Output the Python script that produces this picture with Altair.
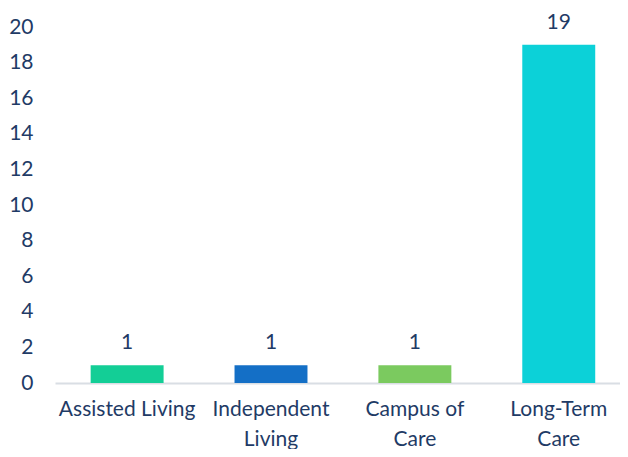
import altair as alt
import pandas as pd

categories = ["Assisted Living", "Independent Living", "Campus of Care", "Long-Term Care"]
label_lines = [["Assisted Living"], ["Independent", "Living"], ["Campus of", "Care"], ["Long-Term", "Care"]]
values = [1, 1, 1, 19]
colors = ["#13CE96", "#146FC6", "#7BCA5F", "#0CD1D8"]
y_ticks = list(range(0, 21, 2))

df = pd.DataFrame({"category": categories, "value": values})

TEXT = "#1F3B66"
FONT = "Lato"
FS = 21

expr_parts = []
for c, lines in zip(categories, label_lines):
    arr = "[" + ",".join("'" + l + "'" for l in lines) + "]"
    expr_parts.append(f"datum.value == '{c}' ? {arr} : ")
label_expr = "".join(expr_parts) + "datum.label"

x = alt.X(
    "category:N",
    sort=categories,
    title=None,
    scale=alt.Scale(paddingInner=0.493, paddingOuter=0.21, align=0.59),
    axis=alt.Axis(
        labelExpr=label_expr,
        labelAngle=0,
        labelFont=FONT,
        labelFontSize=FS,
        labelColor=TEXT,
        labelLineHeight=30,
        labelPadding=15,
        ticks=False,
        domainColor="#D9DEE4",
        domainWidth=2,
        labelLimit=300,
    ),
)

y = alt.Y(
    "value:Q",
    title=None,
    scale=alt.Scale(domain=[0, 20], nice=False),
    axis=alt.Axis(
        values=y_ticks,
        tickCount=len(y_ticks) + 5,
        grid=False,
        domain=False,
        ticks=False,
        labelOverlap=False,
        labelFont=FONT,
        labelFontSize=FS,
        labelColor=TEXT,
        labelPadding=22,
    ),
)

base = alt.Chart(df).encode(x=x, y=y)

bars = base.mark_bar().encode(
    color=alt.Color("category:N", scale=alt.Scale(domain=categories, range=colors), legend=None),
)

text = base.mark_text(
    baseline="bottom", dy=-12, font=FONT, fontSize=FS, color=TEXT
).encode(text="value:Q")

chart = (
    alt.layer(bars, text)
    .properties(
        width=612,
        height=441,
        padding={"left": 0, "top": 8, "right": 0, "bottom": 0},
        autosize=alt.AutoSizeParams(type="fit", contains="padding"),
    )
    .configure(background="white")
    .configure_view(strokeOpacity=0, strokeWidth=0)
)

chart.save("out.html", embed_options={"renderer": "svg", "actions": False})
